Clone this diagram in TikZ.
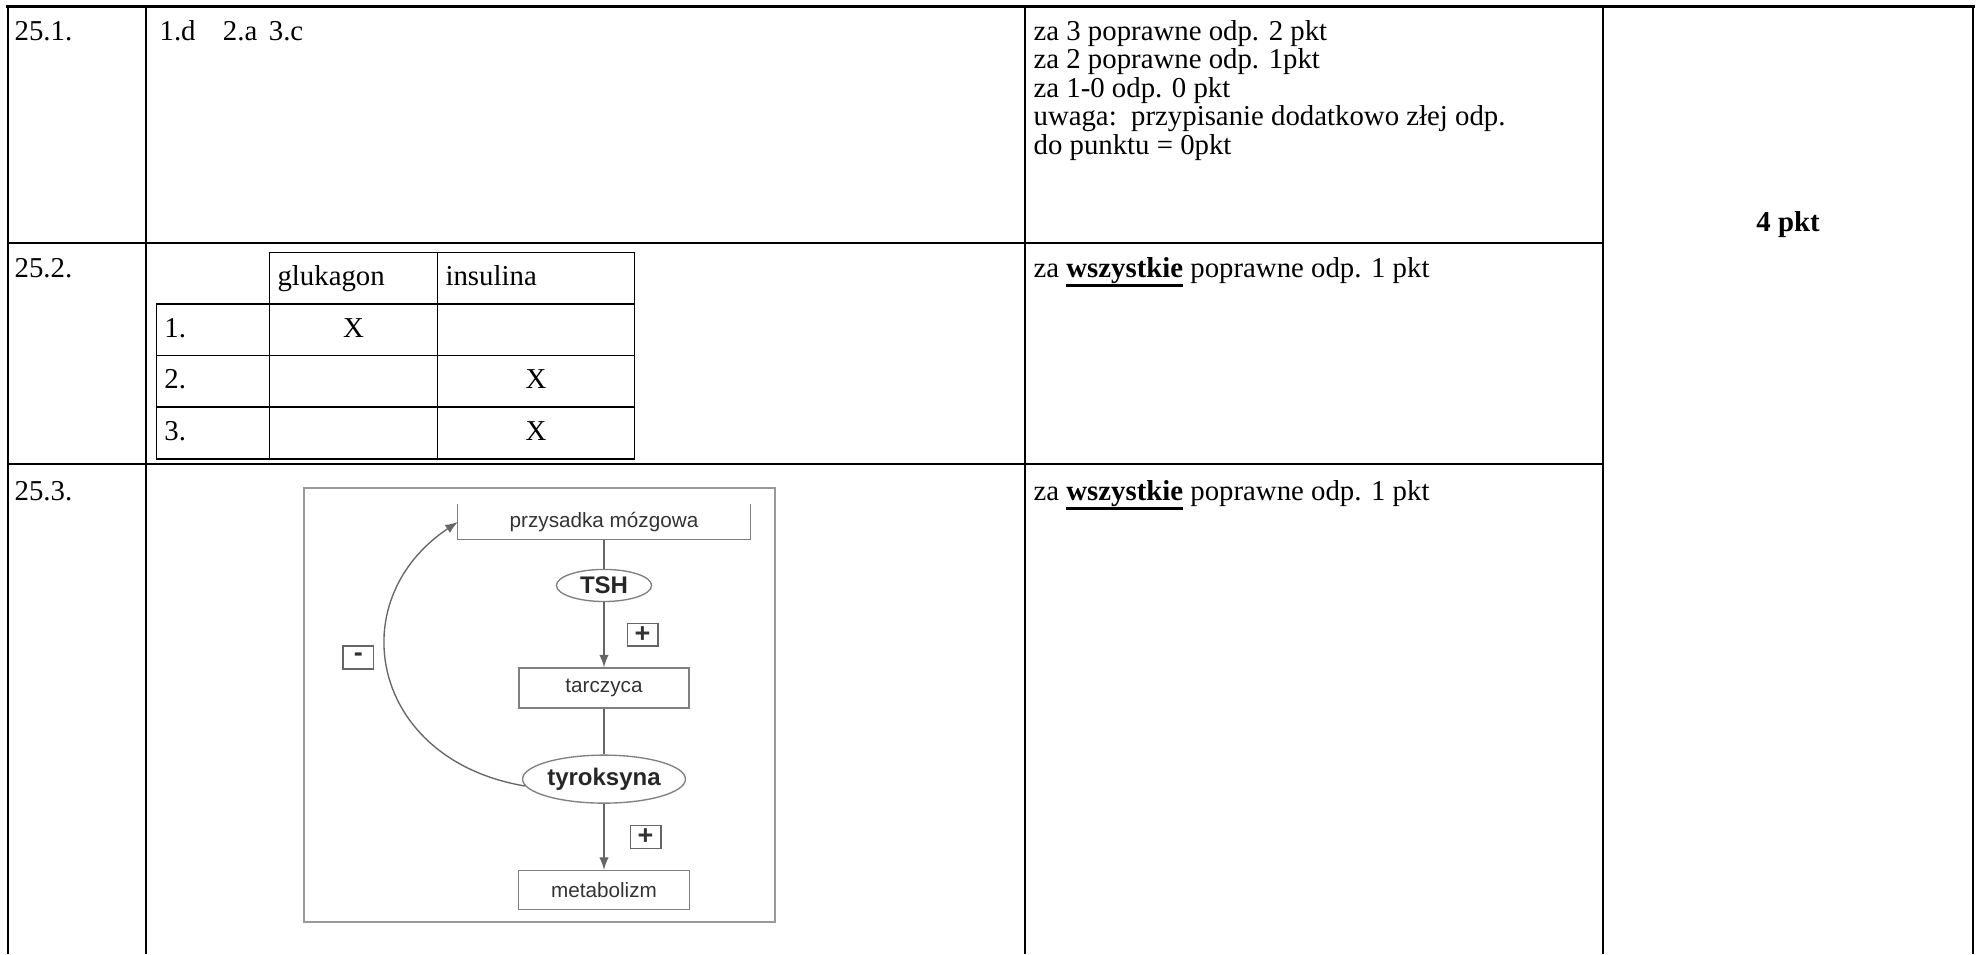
\documentclass[tikz,border=0pt]{standalone}
\usepackage{fontspec}
\setmainfont{Liberation Serif}
\setsansfont{Liberation Sans}
\usetikzlibrary{arrows,positioning,matrix,shapes.geometric}

\newcommand\tabfont{\fontsize{9.6}{10.4}\selectfont}
\newcommand\podkr[1]{\leavevmode\vtop{\hbox{#1}\kern0.2pt\hrule height 1pt}}

\begin{document}
\begin{tikzpicture}[x=0.3333pt,y=-0.3333pt,
txt/.style={inner sep=0pt,font=\tabfont},
rule/.style={line width=0.7pt},
plain/.style={draw=none,fill=none,},
tab/.style={matrix of nodes, inner sep=0pt,
    nodes={draw,line width=0.5pt,inner xsep=2.7pt,inner ysep=0pt,
    text height=7pt,text depth=2pt,minimum height=17.2pt,align=center,font=\tabfont},
    nodes in empty cells,column sep=-0.5pt,row sep=-0.5pt,
    column 1/.style={nodes={text width=32.3pt,align=left}},
    column 2/.style={nodes={text width=50.6pt}},
    column 3/.style={nodes={text width=60.3pt}}},
ramka/.style={draw=black!40,line width=0.5pt},
szary/.style={draw=black!60,line width=0.45pt},
box/.style={draw=black!50,line width=0.45pt,inner sep=0pt,
    font=\sffamily\fontsize{6.9}{8}\selectfont,text=black!80},
hormon/.style={ellipse,draw=black!50,line width=0.45pt,inner sep=0pt,
    font=\sffamily\bfseries\fontsize{8}{9}\selectfont,text=black!85},
pm/.style={draw=black!60,line width=0.45pt,minimum width=10.3pt,minimum height=7.6pt,
    inner sep=0pt,font=\sffamily\bfseries\fontsize{9}{9}\selectfont,text=black!80},
>=latex]

\useasboundingbox (0,0) rectangle (1977,954);

% main table
\draw[line width=1pt] (6,6) -- (1975,6);
\foreach \cx in {8,146,1025,1603,1973}
\draw[rule] (\cx,6) -- (\cx,954);
\foreach \ry in {243,464}
\draw[rule] (8,\ry) -- (1603,\ry);

\foreach \nr/\ry in {1/40,2/277,3/500}
\node[txt,anchor=base west] (nr\nr) at (14,\ry) {25.\nr.};

\node[txt,anchor=base west] (odp1) at (159,40) {1.d\hspace{0.95em}2.a\hspace{0.4em}3.c};

\foreach \l [count=\i] in {za 3 poprawne odp. 2 pkt,za 2 poprawne odp. 1pkt,
    za 1-0 odp. 0 pkt,uwaga:\ \ przypisanie dodatkowo złej odp.,do punktu = 0pkt}
\node[txt,anchor=base west] (kr\i) at (1033,{40+28.5*(\i-1)}) {\l};

\foreach \nr/\ry in {2/277,3/500}
\node[txt,anchor=base west] (wsz\nr) at (1033,\ry) {za \podkr{\textbf{wszystkie}} poprawne odp. 1 pkt};

\node[txt,font=\tabfont\bfseries] (suma) at (1788,225) {4 pkt};

% 25.2
\matrix[tab,anchor=north west] (tb) at (155,251)
{
|[plain]| & |[align=left]| glukagon & |[align=left]| insulina \\
1. & X & \\
2. & & X \\
3. & & X \\
};

% 25.3
\draw[ramka] (304,488) rectangle (775,922);
\node[box,draw=none,minimum width=97pt,minimum height=11.3pt] (prz) at (604,522) {przysadka mózgowa};
\draw[box] (prz.north west) -- (prz.south west) -- (prz.south east) -- (prz.north east);
\node[hormon,minimum width=31.7pt,minimum height=10.7pt,below=9.7pt of prz] (tsh) {TSH};
\node[box,minimum width=56.7pt,minimum height=13.3pt,below=21.7pt of tsh] (tar) {tarczyca};
\node[hormon,minimum width=54.3pt,minimum height=16pt,below=15.3pt of tar] (tyr) {tyroksyna};
\node[box,minimum width=57pt,minimum height=13pt,below=22pt of tyr] (met) {metabolizm};

\draw[szary] (prz) -- (tsh);
\draw[szary,->] (tsh) -- node[pm,right=7.5pt] (plus1) {+} (tar);
\draw[szary] (tar) -- (tyr);
\draw[szary,->] (tyr) -- node[pm,right=8.5pt] (plus2) {+} (met);
\draw[szary,->] (tyr.185) .. controls (370,760) and (340,600) ..
    node[pm,pos=0.55,left=4pt] (minus) {-} (prz.west);
\end{tikzpicture}
\end{document}
